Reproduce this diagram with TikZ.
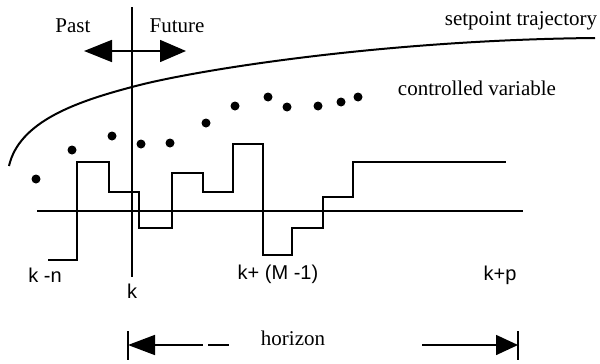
\documentclass[tikz,border=0pt]{standalone}
\usepackage{fontspec}
\setmainfont{Liberation Serif}
\newfontfamily\labsans{Liberation Sans}
\usetikzlibrary{arrows.meta}
\begin{document}
\begin{tikzpicture}[x=1pt,y=-1pt,
  word/.style={font=\fontsize{21}{24}\selectfont, anchor=base, inner sep=0pt},
  klab/.style={font=\labsans\fontsize{20}{24}\selectfont, anchor=base, inner sep=0pt},
  axisline/.style={line width=2.8pt},
  sig/.style={line width=2.4pt, line join=miter},
  cvdot/.style={circle, fill=black, inner sep=0pt, minimum size=9pt},
  arrline/.style={line width=1.6pt},
  barline/.style={line width=2pt}]
\useasboundingbox (0,0) rectangle (600,364);
% labels
\node[word] (past) at (73,32) {Past};
\node[word] (future) at (177,32) {Future};
\node[word] (setp) at (521,25) {setpoint trajectory};
\node[word] (cv) at (477,95) {controlled variable};
\node[word] (hor) at (293,345) {horizon};
\node[klab] (kn) at (45,282) {k -n};
\node[klab] (k) at (132,298) {k};
\node[klab] (kM) at (278,279) {k+ (M -1)};
\node[klab] (kp) at (500,280) {k+p};
% time k line
\coordinate (ktop) at (132,7);
\coordinate (kbot) at (132,277);
\draw[line width=2pt] (ktop) -- (kbot);
% past / future arrow
\coordinate (pl) at (84,51);
\coordinate (pr) at (186,51);
\draw[arrline,{Triangle[length=28pt,width=22pt]}-{Triangle[length=26pt,width=22pt]}] (pl) -- (pr);
% setpoint trajectory
\coordinate (s0) at (9,166);
\coordinate (s1) at (132,87);
\coordinate (s2) at (595,38);
\draw[line width=2pt] (s0) .. controls (19,122) and (75,102) .. (s1)
  .. controls (190,71) and (380,40) .. (s2);
% axis
\coordinate (al) at (37,211);
\coordinate (ar) at (523,211);
\draw[axisline] (al) -- (ar);
% manipulated variable
\draw[sig] (48,260) -| (77,162) -| (109,192) -| (139,228) -| (172,173) -| (203,192)
  -| (233,144) -| (263,255) -| (292,228) -| (323,197) -| (353,162) -- (506,162);
% controlled variable dots
\foreach \p [count=\i] in {(36,179),(72,150),(112,136),(141,144),(170,143),(206,123),(235,106),(268,97),(287,107),(318,106),(341,102),(358,97)}
  \node[cvdot] (d\i) at \p {};
% horizon
\coordinate (hl) at (128,345);
\coordinate (hr) at (518,345);
\draw[barline] (128,331) -- (128,360);
\draw[barline] (518,331) -- (518,360);
\coordinate (hla) at (203,345);
\coordinate (hlb) at (208,345);
\coordinate (hlc) at (229,345);
\coordinate (hra) at (422,345);
\draw[arrline,{Triangle[length=27pt,width=20pt]}-] (hl) -- (hla);
\draw[arrline] (hlb) -- (hlc);
\draw[arrline,-{Triangle[length=22pt,width=20pt]}] (hra) -- (hr);
\end{tikzpicture}
\end{document}
